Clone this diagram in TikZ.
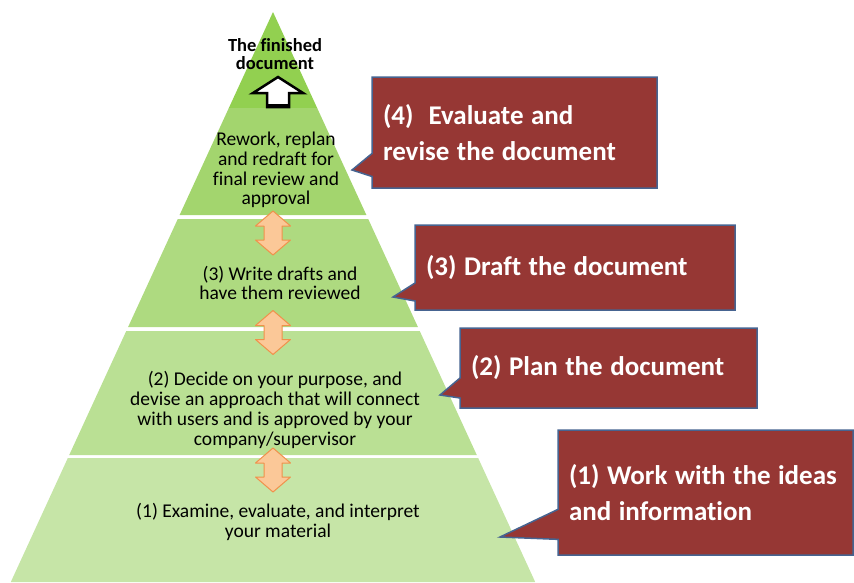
\documentclass[tikz,border=0pt]{standalone}
\usepackage{fontspec}
\setmainfont{Carlito}[Ligatures=NoCommon]
\usetikzlibrary{shapes.callouts}
\definecolor{tipgreen}{RGB}{146,208,80}
\definecolor{lvlfour}{RGB}{163,213,110}
\definecolor{lvlthree}{RGB}{174,218,128}
\definecolor{lvltwo}{RGB}{186,224,148}
\definecolor{lvlone}{RGB}{198,229,167}
\definecolor{calloutred}{RGB}{150,55,52}
\definecolor{calloutedge}{RGB}{70,100,145}
\definecolor{arrowfill}{RGB}{251,200,152}
\definecolor{arrowedge}{RGB}{240,145,75}

\begin{document}
\begin{tikzpicture}[x=1pt,y=-1pt,
	bandtext/.style={align=center,font=\fontsize{19.5}{19.8}\selectfont},
	callbox/.style={rectangle callout,fill=calloutred,draw=calloutedge,line width=1.5pt,text=white,align=left,inner xsep=11pt,inner ysep=0pt,font=\bfseries\fontsize{27}{36}\selectfont,execute at begin node={\spaceskip=7.5pt\relax}},
	dblarrow/.style={fill=arrowfill,draw=arrowedge,line width=1pt,line join=round}]
	\useasboundingbox (0,0) rectangle (854,582);
	\fill[tipgreen] (273,12) -- ({273+0.46*96},108) -- ({273-0.46*96},108) -- cycle;
	\foreach \t/\b/\c in {108/215/lvlfour,219/327/lvlthree,331/455/lvltwo,458/582/lvlone}
		\fill[\c] ({273-0.46*(\t-12)},\t) -- ({273+0.46*(\t-12)},\t) -- ({273+0.46*(\b-12)},\b) -- ({273-0.46*(\b-12)},\b) -- cycle;
	\draw[fill=white,line width=2.5pt,line join=miter] (278,77) -- (303,93) -- (289,93) -- (289,107) -- (267,107) -- (267,93) -- (253,93) -- cycle;
	\draw[line width=4pt] (267,106) -- (289,106);
	\foreach \y in {233,332.5,470}
		\draw[dblarrow] (273,{\y-22}) -- (290.5,{\y-7}) -- (282,{\y-7}) -- (282,{\y+7}) -- (290.5,{\y+7}) -- (273,{\y+22}) -- (255.5,{\y+7}) -- (264,{\y+7}) -- (264,{\y-7}) -- (255.5,{\y-7}) -- cycle;
	\node[bandtext,font=\bfseries\fontsize{18.5}{18}\selectfont] (finished) at (275,54) {The finished\\document};
	\node[bandtext] (rework) at (276,170) {Rework, replan\\and redraft for\\final review and\\approval};
	\node[bandtext] (write) at (280,283) {(3) Write drafts and\\have them reviewed};
	\node[bandtext] (decide) at (275,410) {(2) Decide on your purpose, and\\devise an approach that will connect\\with users and is approved by your\\company/supervisor};
	\node[bandtext] (examine) at (278,522) {(1) Examine, evaluate, and interpret\\your material};
	\node[callbox,text width=263pt,minimum height=111pt,callout absolute pointer={(352,170)},callout pointer width=23pt] (evaluate) at (514.5,132.5) {(4)\ \ Evaluate and\\revise the document};
	\node[callbox,text width=298pt,minimum height=85pt,callout absolute pointer={(393,297)},callout pointer width=18pt] (draft) at (575,267.5) {(3) Draft the document};
	\node[callbox,text width=275pt,minimum height=80pt,callout absolute pointer={(440,395)},callout pointer width=20pt] (plan) at (608.5,368) {(2) Plan the document};
	\node[callbox,text width=273pt,minimum height=125pt,callout absolute pointer={(500,537)},callout pointer width=30pt] (work) at (705.5,492.5) {(1) Work with the ideas\\and information};
\end{tikzpicture}
\end{document}
